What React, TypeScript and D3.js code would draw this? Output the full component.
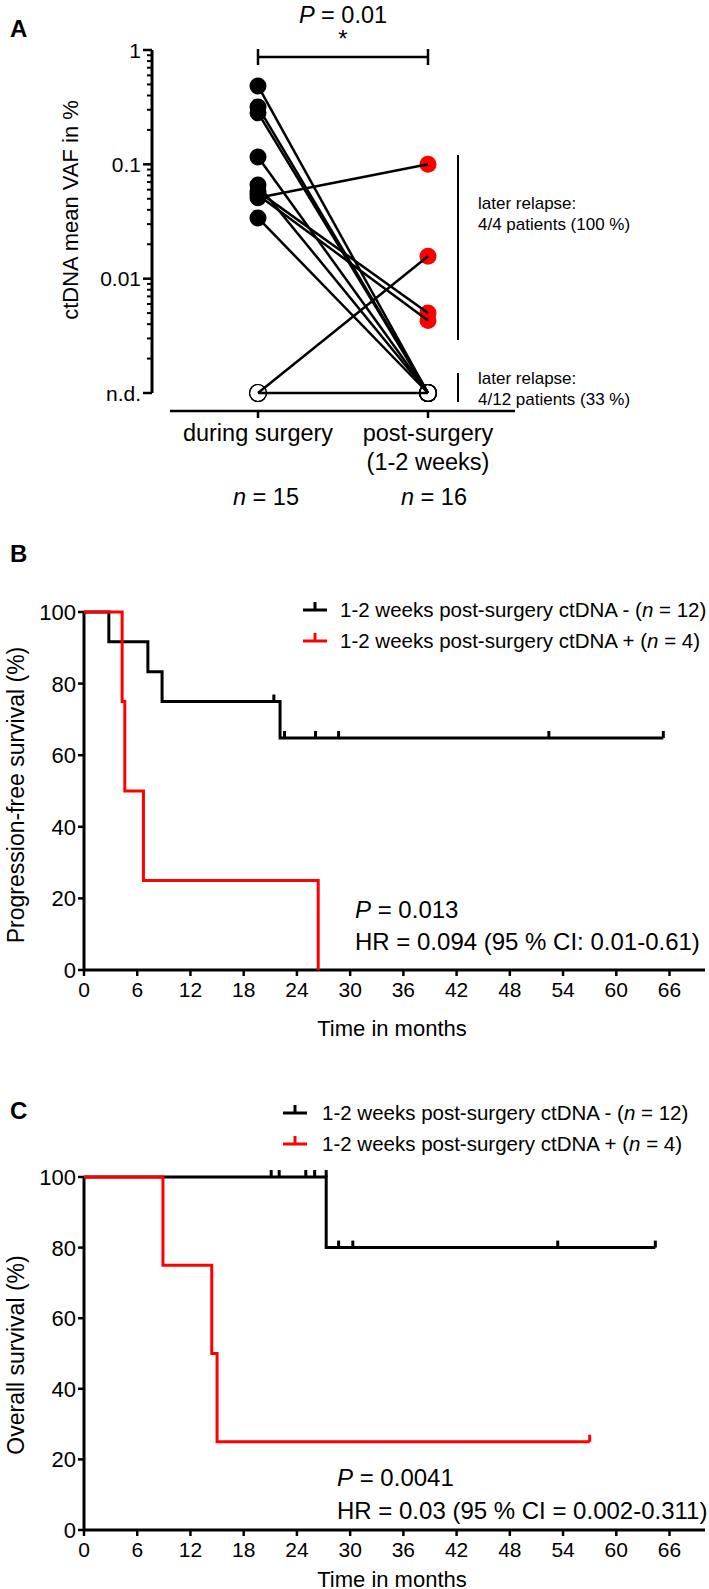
import React from "react";
import * as d3 from "d3";

// ---------- Panel A data ----------
const categoriesA = ["during surgery", "post-surgery"];
const ND = 0.001; // n.d. plotted at the bottom of the log axis
// paired patients: during-surgery value -> post-surgery value (null = n.d.)
const pairDuring: (number | null)[] = [0.485, 0.318, 0.282, 0.116, 0.066, 0.058, 0.054, 0.051, 0.034, null, null];
const pairPost: (number | null)[] = [null, null, null, null, null, 0.005, 0.0043, 0.1, null, 0.0157, null];
const majorTicksA = [1, 0.1, 0.01, 0.001];
const majorLabelsA = ["1", "0.1", "0.01", "n.d."];

// ---------- Panel B data (progression-free survival) ----------
const pfsNegTimes = [0, 2.8, 7.2, 8.8, 22.1];
const pfsNegSurv = [100, 91.7, 83.3, 75, 64.8];
const pfsNegEnd = 65.3;
const pfsNegCensor = [21.4, 22.6, 26.1, 28.7, 52.4, 65.3];
const pfsPosTimes = [0, 4.3, 4.6, 6.7, 26.4];
const pfsPosSurv = [100, 75, 50, 25, 0];
const pfsPosEnd = 26.4;
const pfsPosCensor: number[] = [];

// ---------- Panel C data (overall survival) ----------
const osNegTimes = [0, 27.3];
const osNegSurv = [100, 80];
const osNegEnd = 64.4;
const osNegCensor = [21.1, 22.0, 25.0, 26.0, 27.3, 28.7, 30.3, 53.4, 64.4];
const osPosTimes = [0, 8.9, 14.4, 15.0];
const osPosSurv = [100, 75, 50, 25];
const osPosEnd = 57.0;
const osPosCensor = [57.0];

const monthTicks = d3.range(0, 67, 6);
const survTicks = [0, 20, 40, 60, 80, 100];

const FONT = "'Liberation Sans', Arial, Helvetica, sans-serif";
const RED = "#ff0000";

function kmPath(times: number[], surv: number[], end: number, x: any, y: any) {
  let p = `M${x(times[0])},${y(surv[0])}`;
  for (let i = 1; i < times.length; i++) {
    p += `H${x(times[i])}V${y(surv[i])}`;
  }
  p += `H${x(end)}`;
  return p;
}

function survAt(times: number[], surv: number[], t: number) {
  let s = surv[0];
  for (let i = 0; i < times.length; i++) if (times[i] <= t) s = surv[i];
  return s;
}

function KMPanel(props: {
  top: number; bottom: number; letter: string; letterY: number; legendY: number; legendSampleX: number; legendTextX: number;
  negLabel: string; yTitle: string; pText: string; hrText: string; statX: number; pY: number; hrY: number;
  negTimes: number[]; negSurv: number[]; negEnd: number; negCensor: number[];
  posTimes: number[]; posSurv: number[]; posEnd: number; posCensor: number[];
  yTitleY: number; xTitleDy: number;
}) {
  const x = d3.scaleLinear().domain([0, 70]).range([84, 705]);
  const y = d3.scaleLinear().domain([0, 100]).range([props.bottom, props.top]);
  const censorH = 7;
  const legendRows = [
    { color: "#000", text: props.negLabel, n: "12" },
    { color: RED, text: "1-2 weeks post-surgery ctDNA + (", n: "4" },
  ];
  return (
    <g>
      <text x={10} y={props.letterY} fontSize={24} fontWeight="bold" fontFamily={FONT}>{props.letter}</text>
      {legendRows.map((r, i) => {
        const cy = props.legendY + i * 31;
        return (
          <g key={i}>
            <line x1={props.legendSampleX} x2={props.legendSampleX + 24} y1={cy} y2={cy} stroke={r.color} strokeWidth={3} />
            <line x1={props.legendSampleX + 12} x2={props.legendSampleX + 12} y1={cy} y2={cy - 8} stroke={r.color} strokeWidth={3} />
            <text x={props.legendTextX} y={cy + 7} fontSize={20.5} fontFamily={FONT}>
              {r.text}<tspan fontStyle="italic">n</tspan>{" = " + r.n + ")"}
            </text>
          </g>
        );
      })}
      {/* y axis */}
      <line x1={84} x2={84} y1={y(0)} y2={y(100)} stroke="#000" strokeWidth={3} />
      {survTicks.map((t) => (
        <g key={t}>
          <line x1={78} x2={84} y1={y(t)} y2={y(t)} stroke="#000" strokeWidth={2.5} />
          <text x={76} y={y(t)} dy="0.36em" textAnchor="end" fontSize={22} fontFamily={FONT}>{t}</text>
        </g>
      ))}
      {/* x axis */}
      <line x1={84} x2={705} y1={y(0)} y2={y(0)} stroke="#000" strokeWidth={3} />
      {monthTicks.map((t) => (
        <g key={t}>
          <line x1={x(t)} x2={x(t)} y1={y(0)} y2={y(0) + 6} stroke="#000" strokeWidth={2.5} />
          <text x={x(t)} y={y(0) + 27} textAnchor="middle" fontSize={21} fontFamily={FONT}>{t}</text>
        </g>
      ))}
      <text x={392} y={y(0) + props.xTitleDy} textAnchor="middle" fontSize={22} fontFamily={FONT}>Time in months</text>
      <text transform={`translate(24,${props.yTitleY}) rotate(-90)`} textAnchor="middle" fontSize={23} fontFamily={FONT}>{props.yTitle}</text>
      {/* curves */}
      <path d={kmPath(props.negTimes, props.negSurv, props.negEnd, x, y)} fill="none" stroke="#000" strokeWidth={3} />
      {props.negCensor.map((c, i) => {
        const s = survAt(props.negTimes, props.negSurv, c - 0.01);
        return <line key={i} x1={x(c)} x2={x(c)} y1={y(s)} y2={y(s) - censorH} stroke="#000" strokeWidth={3} />;
      })}
      <path d={kmPath(props.posTimes, props.posSurv, props.posEnd, x, y)} fill="none" stroke={RED} strokeWidth={3} />
      {props.posCensor.map((c, i) => {
        const s = survAt(props.posTimes, props.posSurv, c);
        return <line key={i} x1={x(c)} x2={x(c)} y1={y(s)} y2={y(s) - censorH} stroke={RED} strokeWidth={3} />;
      })}
      <text x={props.statX} y={props.pY} fontSize={24} fontFamily={FONT}>
        <tspan fontStyle="italic">P</tspan>{props.pText}
      </text>
      <text x={props.statX} y={props.hrY} fontSize={24} fontFamily={FONT}>{props.hrText}</text>
    </g>
  );
}

function PanelA() {
  const y = d3.scaleLog().domain([ND, 1]).range([393, 50]);
  const x = d3.scalePoint().domain(categoriesA).range([258, 428]);
  const xd = x(categoriesA[0]) as number;
  const xp = x(categoriesA[1]) as number;
  const minors: number[] = [];
  [0.001, 0.01, 0.1].forEach((d) => { for (let k = 2; k <= 9; k++) minors.push(d * k); });
  const r = 8.5;
  return (
    <g>
      <text x={10} y={37} fontSize={24} fontWeight="bold" fontFamily={FONT}>A</text>
      <text x={343} y={23} textAnchor="middle" fontSize={23.5} fontFamily={FONT}>
        <tspan fontStyle="italic">P</tspan> = 0.01
      </text>
      <text x={343} y={47} textAnchor="middle" fontSize={24} fontFamily={FONT}>*</text>
      <line x1={xd} x2={xp} y1={57} y2={57} stroke="#000" strokeWidth={2.5} />
      <line x1={xd} x2={xd} y1={49} y2={65} stroke="#000" strokeWidth={2.5} />
      <line x1={xp} x2={xp} y1={49} y2={65} stroke="#000" strokeWidth={2.5} />
      {/* y axis */}
      <line x1={152} x2={152} y1={y(1)} y2={y(ND)} stroke="#000" strokeWidth={3} />
      {majorTicksA.map((t, i) => (
        <g key={t}>
          <line x1={143} x2={152} y1={y(t)} y2={y(t)} stroke="#000" strokeWidth={2.5} />
          <text x={141} y={y(t)} dy="0.36em" textAnchor="end" fontSize={21} fontFamily={FONT}>{majorLabelsA[i]}</text>
        </g>
      ))}
      {minors.map((t, i) => (
        <line key={i} x1={147} x2={152} y1={y(t)} y2={y(t)} stroke="#000" strokeWidth={2} />
      ))}
      <text transform="translate(78,210) rotate(-90)" textAnchor="middle" fontSize={22} fontFamily={FONT}>ctDNA mean VAF in %</text>
      {/* x axis */}
      <line x1={170} x2={515} y1={411} y2={411} stroke="#000" strokeWidth={2.5} />
      {categoriesA.map((c) => (
        <line key={c} x1={x(c) as number} x2={x(c) as number} y1={411} y2={418} stroke="#000" strokeWidth={2.5} />
      ))}
      <text x={xd} y={441} textAnchor="middle" fontSize={23.5} fontFamily={FONT}>during surgery</text>
      <text x={xp} y={441} textAnchor="middle" fontSize={23.5} fontFamily={FONT}>post-surgery</text>
      <text x={xp} y={470} textAnchor="middle" fontSize={23.5} fontFamily={FONT}>(1-2 weeks)</text>
      <text x={xd + 8} y={505} textAnchor="middle" fontSize={23.5} fontFamily={FONT}>
        <tspan fontStyle="italic">n</tspan> = 15
      </text>
      <text x={xp + 6} y={505} textAnchor="middle" fontSize={23.5} fontFamily={FONT}>
        <tspan fontStyle="italic">n</tspan> = 16
      </text>
      {/* points */}
      {pairDuring.map((v, i) => (
        v === null
          ? <circle key={"d" + i} cx={xd} cy={y(ND)} r={r} fill="none" stroke="#000" strokeWidth={1.2} />
          : <circle key={"d" + i} cx={xd} cy={y(v)} r={r} fill="#000" />
      ))}
      {pairPost.map((v, i) => (
        v === null
          ? <circle key={"p" + i} cx={xp} cy={y(ND)} r={r} fill="none" stroke="#000" strokeWidth={1.2} />
          : <circle key={"p" + i} cx={xp} cy={y(v)} r={r} fill={RED} />
      ))}
      {/* connecting lines */}
      {pairDuring.map((v, i) => (
        <line key={"l" + i} x1={xd} y1={y(v === null ? ND : v)} x2={xp} y2={y(pairPost[i] === null ? ND : (pairPost[i] as number))} stroke="#000" strokeWidth={2.5} />
      ))}
      {/* relapse annotations */}
      <line x1={458} x2={458} y1={155} y2={340} stroke="#000" strokeWidth={2} />
      <line x1={458} x2={458} y1={373} y2={402} stroke="#000" strokeWidth={2} />
      <text x={478} y={209} fontSize={17} fontFamily={FONT}>later relapse:</text>
      <text x={478} y={230} fontSize={17} fontFamily={FONT}>4/4 patients (100 %)</text>
      <text x={478} y={384} fontSize={17} fontFamily={FONT}>later relapse:</text>
      <text x={478} y={405} fontSize={17} fontFamily={FONT}>4/12 patients (33 %)</text>
    </g>
  );
}

export default function App() {
  return (
    <div style={{ position: "absolute", left: 0, top: 0, background: "#fff" }}>
      <svg width={709} height={1589} viewBox="0 0 709 1589" style={{ display: "block" }}>
        <rect x={0} y={0} width={709} height={1589} fill="#fff" />
        <PanelA />
        <KMPanel top={612} bottom={970} letter="B" letterY={562} legendY={610} legendSampleX={303} legendTextX={340}
          negLabel="1-2 weeks post-surgery ctDNA - (" yTitle="Progression-free survival (%)" pText=" = 0.013"
          hrText="HR = 0.094 (95 % CI: 0.01-0.61)" statX={355} pY={918} hrY={950}
          negTimes={pfsNegTimes} negSurv={pfsNegSurv} negEnd={pfsNegEnd} negCensor={pfsNegCensor}
          posTimes={pfsPosTimes} posSurv={pfsPosSurv} posEnd={pfsPosEnd} posCensor={pfsPosCensor} yTitleY={795} xTitleDy={66} />
        <KMPanel top={1177} bottom={1530} letter="C" letterY={1119} legendY={1113} legendSampleX={283} legendTextX={322}
          negLabel="1-2 weeks post-surgery ctDNA -  (" yTitle="Overall survival (%)" pText=" = 0.0041"
          hrText="HR = 0.03 (95 % CI = 0.002-0.311)" statX={337} pY={1486} hrY={1519}
          negTimes={osNegTimes} negSurv={osNegSurv} negEnd={osNegEnd} negCensor={osNegCensor}
          posTimes={osPosTimes} posSurv={osPosSurv} posEnd={osPosEnd} posCensor={osPosCensor} yTitleY={1355} xTitleDy={57} />
      </svg>
    </div>
  );
}
